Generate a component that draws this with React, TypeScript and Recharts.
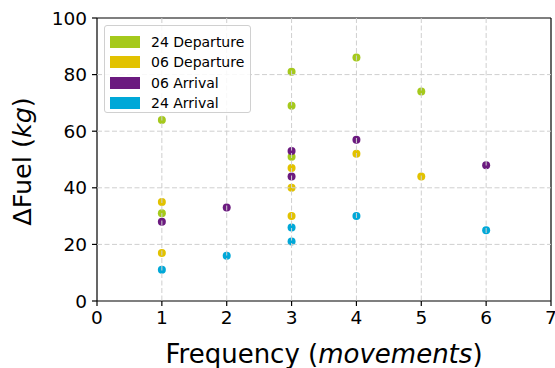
import React from "react";
import { ScatterChart, Scatter, XAxis, YAxis, CartesianGrid, ReferenceLine } from "recharts";

// Fuel difference vs. movement frequency, one list per runway/operation.
const dep24 = [
  { x: 1, y: 64 }, { x: 1, y: 31 }, { x: 3, y: 81 }, { x: 3, y: 69 }, { x: 3, y: 51 }, { x: 4, y: 86 }, { x: 5, y: 74 },
];
const dep06 = [
  { x: 1, y: 35 }, { x: 1, y: 17 }, { x: 3, y: 47 }, { x: 3, y: 40 }, { x: 3, y: 30 }, { x: 4, y: 52 }, { x: 5, y: 44 },
];
const arr06 = [
  { x: 1, y: 28 }, { x: 2, y: 33 }, { x: 3, y: 53 }, { x: 3, y: 44 }, { x: 4, y: 57 }, { x: 6, y: 48 },
];
const arr24 = [
  { x: 1, y: 11 }, { x: 2, y: 16 }, { x: 3, y: 26 }, { x: 3, y: 21 }, { x: 4, y: 30 }, { x: 6, y: 25 },
];

const xTicks = [0, 1, 2, 3, 4, 5, 6, 7];
const yTicks = [0, 20, 40, 60, 80, 100];
// inner grid lines only, the frame is drawn by the axes
const xGrid = [1, 2, 3, 4, 5, 6];
const yGrid = [20, 40, 60, 80];

const SERIES = [
  { name: "24 Departure", data: dep24, color: "#a5c91c" },
  { name: "06 Departure", data: dep06, color: "#e2c200" },
  { name: "06 Arrival", data: arr06, color: "#6b1a7f" },
  { name: "24 Arrival", data: arr24, color: "#00a8d8" },
];

const FONT = "'DejaVu Sans', sans-serif";

function XLabel(props: { viewBox?: { x: number; y: number; width: number } }) {
  const vb = props.viewBox ?? { x: 0, y: 0, width: 0 };
  return (
    <text x={vb.x + vb.width / 2} y={vb.y + 62} textAnchor="middle" fontSize={26} fill="#000" fontFamily={FONT}>
      Frequency (<tspan fontStyle="italic">movements</tspan>)
    </text>
  );
}

function YLabel(props: { viewBox?: { x: number; y: number; height: number } }) {
  const vb = props.viewBox ?? { x: 0, y: 0, height: 0 };
  const cy = vb.y + vb.height / 2 + 2;
  return (
    <text x={31} y={cy} transform={`rotate(-90 31 ${cy})`} textAnchor="middle" fontSize={25.5} fill="#000" fontFamily={FONT}>
      ΔFuel (<tspan fontStyle="italic">kg</tspan>)
    </text>
  );
}

// matplotlib-style legend box, laid over the upper-left of the plot
function LegendBox() {
  return (
    <div style={{
      position: "absolute", left: 104, top: 25,
      border: "1px solid #d0d0d0", borderRadius: 3, background: "rgba(255,255,255,0.85)",
      width: 147, height: 88, boxSizing: "border-box", padding: "6px 0 0 5px", fontFamily: FONT,
    }}>
      {SERIES.map((s) => (
        <div key={s.name} style={{ display: "flex", alignItems: "center", height: 20.3 }}>
          <span style={{ width: 30, height: 12, background: s.color, display: "inline-block" }} />
          <span style={{ marginLeft: 11, fontSize: 14, color: "#000", lineHeight: "20px" }}>{s.name}</span>
        </div>
      ))}
    </div>
  );
}

export default function App() {
  return (
    <div style={{ position: "absolute", left: 0, top: 0, background: "#fff" }}>
      <ScatterChart width={555} height={368} margin={{ top: 18, right: 4, bottom: 0, left: 0 }}>
        <CartesianGrid stroke="#cfcfcf" strokeDasharray="5 2.5" zIndex={700}
          horizontalValues={yGrid} verticalValues={xGrid} />
        <XAxis type="number" dataKey="x" domain={[0, 7]} ticks={xTicks} interval={0}
          stroke="#000" strokeWidth={1.2} tickSize={5} tickMargin={5} height={67}
          tick={{ fontSize: 18.5, fill: "#000", fontFamily: FONT }}
          label={<XLabel />} />
        <YAxis type="number" dataKey="y" domain={[0, 100]} ticks={yTicks} interval={0}
          stroke="#000" strokeWidth={1.2} tickSize={5} tickMargin={5} width={97}
          tick={{ fontSize: 18.5, fill: "#000", fontFamily: FONT }}
          label={<YLabel />} />
        <ReferenceLine y={100} stroke="#000" strokeWidth={1.2} />
        <ReferenceLine x={7} stroke="#000" strokeWidth={1.2} />
        {SERIES.map((s) => (
          <Scatter key={s.name} name={s.name} data={s.data} fill={s.color} isAnimationActive={false}
            shape={(p: { cx?: number; cy?: number }) => <circle cx={p.cx} cy={p.cy} r={4} fill={s.color} />} />
        ))}
      </ScatterChart>
      <LegendBox />
    </div>
  );
}
